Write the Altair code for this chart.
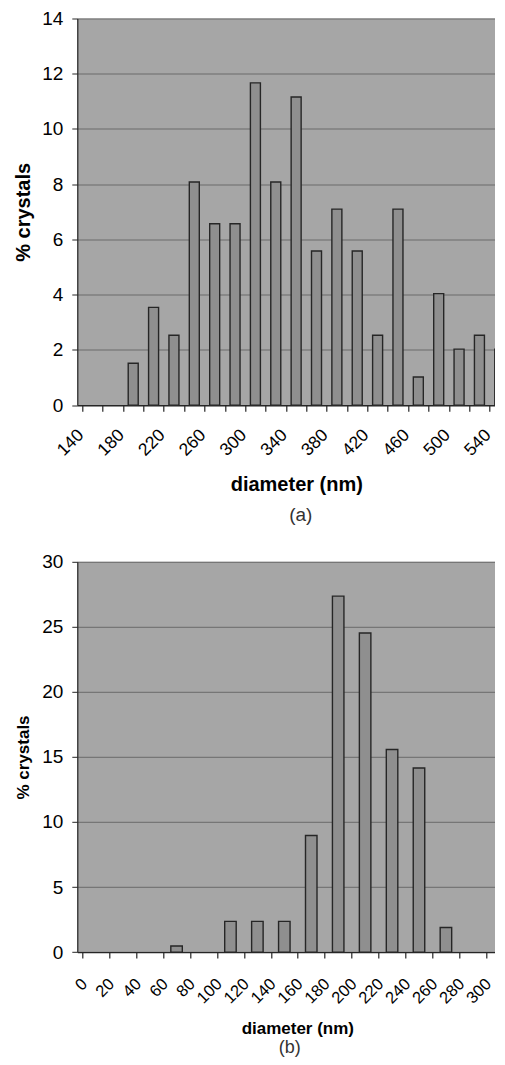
import altair as alt
import pandas as pd

# ---------------- panel (a) ----------------
a_categories = [140, 160, 180, 200, 220, 240, 260, 280, 300, 320, 340,
                360, 380, 400, 420, 440, 460, 480, 500, 520, 540]
a_diameter = [180, 200, 220, 240, 260, 280, 300, 320, 340, 360,
              380, 400, 420, 440, 460, 480, 500, 520, 540]
a_percent = [1.52, 3.54, 2.53, 8.08, 6.57, 6.57, 11.67, 8.08, 11.16, 5.58,
             7.10, 5.58, 2.53, 7.10, 1.02, 4.04, 2.03, 2.53, 2.03]
a_tick_labels = [140, 180, 220, 260, 300, 340, 380, 420, 460, 500, 540]
a_y_ticks = [0, 2, 4, 6, 8, 10, 12, 14]

# ---------------- panel (b) ----------------
b_categories = [0, 20, 40, 60, 80, 100, 120, 140, 160, 180, 200,
                220, 240, 260, 280, 300]
b_diameter = [60, 100, 120, 140, 160, 180, 200, 220, 240, 260]
b_percent = [0.47, 2.36, 2.36, 2.36, 8.96, 27.36, 24.53, 15.57, 14.15, 1.89]
b_tick_labels = [0, 20, 40, 60, 80, 100, 120, 140, 160, 180, 200,
                 220, 240, 260, 280, 300]
b_y_ticks = [0, 5, 10, 15, 20, 25, 30]

FONT = "Liberation Sans"
DARK = "#262626"
GRID = "#6a6a6a"
PLOT_BG = "#a6a6a6"
BAR_FILL = "#8f8f8f"
W = 427.5


def panel(cats, diam, pct, labels, yticks, ymax, caption, H,
          lab_size, ytitle_size, xtitle_size, cap_size, bar_w,
          lab_pad, lab_off, xtitle_x, xtitle_y, cap_x, cap_y):
    half = (cats[1] - cats[0]) / 2
    boundaries = [c - half for c in cats]
    xscale = alt.Scale(domain=[cats[0] - half, cats[-1]], nice=False, zero=False)
    bars_df = pd.DataFrame({"diameter": diam, "pct": pct})
    lab_df = pd.DataFrame({"diameter": labels})

    bars = alt.Chart(bars_df).mark_bar(
        width=bar_w, fill=BAR_FILL, stroke=DARK, strokeWidth=1.4, clip=True
    ).encode(
        x=alt.X("diameter:Q", scale=xscale,
                axis=alt.Axis(orient="bottom", values=boundaries, labels=False,
                              ticks=True, tickSize=6, tickColor=DARK, tickWidth=1.2,
                              domain=True, domainColor=DARK, domainWidth=1.2,
                              grid=False,
                              title=caption, titleFontSize=cap_size,
                              titleFontWeight="normal", titleColor="#333333",
                              titleX=cap_x, titleY=cap_y, titleAlign="center",
                              titleBaseline="middle")),
        y=alt.Y("pct:Q", scale=alt.Scale(domain=[0, ymax], nice=False, zero=True),
                axis=alt.Axis(values=yticks, grid=True, gridColor=GRID,
                              gridWidth=1, domain=True, domainColor=DARK,
                              domainWidth=1.2, tickColor=DARK, tickSize=5.5,
                              labelPadding=9, labelFontSize=19, labelColor="#000000",
                              title="% crystals", titleFontSize=ytitle_size,
                              titleFontWeight="bold", titleColor="#000000",
                              titleX=-54, titleY=H / 2, titleAlign="center",
                              titleBaseline="middle")),
    )

    labs = alt.Chart(lab_df).mark_point(opacity=0).encode(
        x=alt.X("diameter:Q", scale=xscale,
                axis=alt.Axis(orient="bottom", values=labels, domain=False,
                              ticks=False, tickSize=0, grid=False,
                              labelAngle=315, labelAlign="right",
                              labelBaseline="middle", labelPadding=lab_pad,
                              labelOffset=lab_off, labelFlush=False,
                              labelOverlap=False, labelFontSize=lab_size,
                              labelColor="#000000",
                              title="diameter (nm)", titleFontSize=xtitle_size,
                              titleFontWeight="bold", titleColor="#000000",
                              titleX=xtitle_x, titleY=xtitle_y,
                              titleAlign="center", titleBaseline="middle")),
    )
    return alt.layer(bars, labs).resolve_axis(x="independent").properties(
        width=W, height=H)


pa = panel(a_categories, a_diameter, a_percent, a_tick_labels, a_y_ticks, 14,
           "(a)", 386.7, 17.5, 20, 20, 19, 10, 27, -12, 219, 79.5, 223, 109.5)
pb = panel(b_categories, b_diameter, b_percent, b_tick_labels, b_y_ticks, 30,
           "(b)", 390.3, 16.5, 17, 17, 18, 11.5, 29, -11.5, 220, 76, 212, 95)

# the reference figure is cut at the right edge: a negative right padding
# trims the drawing to the page width in the same way
chart = alt.vconcat(pa, pb, spacing=156.3, bounds="flush").properties(
    padding={"left": 5.3, "top": 1.5, "right": -9.5, "bottom": 0}
).configure(font=FONT).configure_view(fill=PLOT_BG, strokeWidth=0)

chart.save("out.html", embed_options={"renderer": "svg", "actions": False})
